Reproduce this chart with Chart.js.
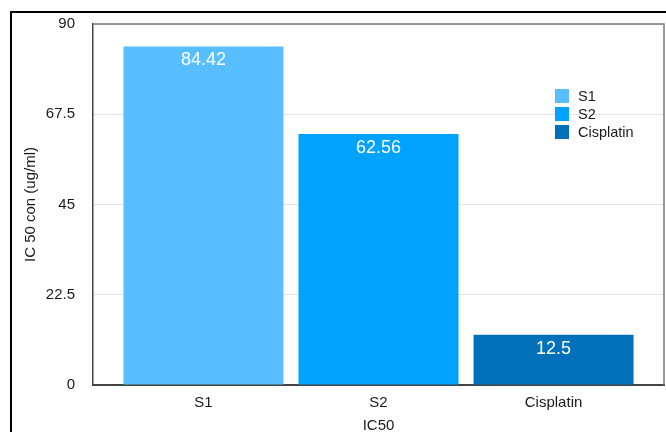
<!DOCTYPE html>
<html>
<head>
<meta charset="utf-8">
<script src="https://cdn.jsdelivr.net/npm/chart.js@4.4.1/dist/chart.umd.min.js"></script>
<style>
    html, body { margin: 0; padding: 0; background: #fff; overflow: hidden; }
    .outer-frame {
        position: absolute;
        left: 10px;
        top: 11px;
        width: 700px;
        height: 460px;
        border: 2.5px solid #000;
    }
    .chart-box {
        position: absolute;
        left: 0;
        top: 0;
        width: 666px;
        height: 432px;
    }
</style>
</head>
<body>
<div class="outer-frame"></div>
<div class="chart-box"><canvas id="icChart"></canvas></div>
<script>
// Data

const categories = ['S1', 'S2', 'Cisplatin'];
const icValues = [84.42, 62.56, 12.5];
const barColors = ['#57BEFF', '#00A2FF', '#0070BA'];
const yTickValues = [0, 22.5, 45, 67.5, 90];

const fontFamily = '"Liberation Sans", Arial, Helvetica, sans-serif';

// Bar value labels inside the top of each bar

const valueLabels = {
    id: 'valueLabels',
    afterDatasetsDraw(chart) {
        const ctx = chart.ctx;
        ctx.save();
        ctx.fillStyle = '#ffffff';
        ctx.font = '18px ' + fontFamily;
        ctx.textAlign = 'center';
        ctx.textBaseline = 'middle';
        chart.data.datasets.forEach((ds, i) => {
            const bar = chart.getDatasetMeta(i).data[0];
            ctx.fillText(String(ds.data[0].y), bar.x, bar.y + 14);
        });
        ctx.restore();
    }
};

// Top and right edges of the plot frame

const plotFrame = {
    id: 'plotFrame',
    afterDraw(chart) {
        const { ctx, chartArea } = chart;
        ctx.save();
        ctx.strokeStyle = '#7a7a7a';
        ctx.lineWidth = 1.5;
        ctx.beginPath();
        ctx.moveTo(chartArea.left, chartArea.top);
        ctx.lineTo(chartArea.right, chartArea.top);
        ctx.lineTo(chartArea.right, chartArea.bottom);
        ctx.stroke();
        ctx.restore();
    }
};

// Legend drawn inside the plot area

const innerLegend = {
    id: 'innerLegend',
    afterDatasetsDraw(chart) {
        const { ctx, chartArea } = chart;
        const x = chartArea.right - 109;
        let y = chartArea.top + 65;
        ctx.save();
        ctx.font = '14.5px ' + fontFamily;
        ctx.textBaseline = 'middle';
        ctx.textAlign = 'left';
        chart.data.datasets.forEach(ds => {
            ctx.fillStyle = ds.backgroundColor;
            ctx.fillRect(x, y, 14, 14);
            ctx.fillStyle = '#1a1a1a';
            ctx.fillText(ds.label, x + 23, y + 8);
            y += 18;
        });
        ctx.restore();
    }
};

const icDatasets = categories.map((name, i) => ({
    label: name,
    data: [{ x: i, y: icValues[i] }],
    backgroundColor: barColors[i],
    borderWidth: 0,
    grouped: false,
    categoryPercentage: 1,
    barPercentage: 0.914
}));

const icOptions = {
    responsive: true,
    maintainAspectRatio: false,
    animation: false,
    layout: {
        padding: { top: 24, right: 2, left: 0, bottom: 0 }
    },
    scales: {
        x: {
            type: 'linear',
            min: -0.631,
            max: 2.631,
            offset: false,
            grid: { display: false, drawTicks: false },
            border: { display: true, color: '#444', width: 2 },
            afterBuildTicks: scale => {
                scale.ticks = categories.map((c, i) => ({ value: i }));
            },
            afterFit: scale => { scale.height = 47; },
            ticks: {
                padding: 9,
                color: '#1a1a1a',
                font: { family: fontFamily, size: 15 },
                callback: value => categories[value]
            },
            title: {
                display: true,
                text: 'IC50',
                color: '#1a1a1a',
                font: { family: fontFamily, size: 15 },
                padding: { top: 0, bottom: -3 }
            }
        },
        y: {
            min: 0,
            max: 90,
            grid: { color: '#e3e3e3', lineWidth: 1, drawTicks: false },
            border: { display: true, color: '#444', width: 1.5 },
            afterBuildTicks: scale => {
                scale.ticks = yTickValues.map(v => ({ value: v }));
            },
            afterFit: scale => {
                scale.width = 93;
                scale.paddingTop = 0;
                scale.paddingBottom = 0;
            },
            ticks: {
                padding: 18,
                color: '#1a1a1a',
                font: { family: fontFamily, size: 15 }
            },
            title: {
                display: true,
                text: 'IC 50 con (ug/ml)',
                color: '#1a1a1a',
                font: { family: fontFamily, size: 15 },
                padding: { top: 22, bottom: 0 }
            }
        }
    },
    plugins: {
        legend: { display: false },
        tooltip: { enabled: false }
    }
};

const icChart = new Chart(document.getElementById('icChart'), {
    type: 'bar',
    data: { datasets: icDatasets },
    options: icOptions,
    plugins: [valueLabels, plotFrame, innerLegend]
});
</script>
</body>
</html>
